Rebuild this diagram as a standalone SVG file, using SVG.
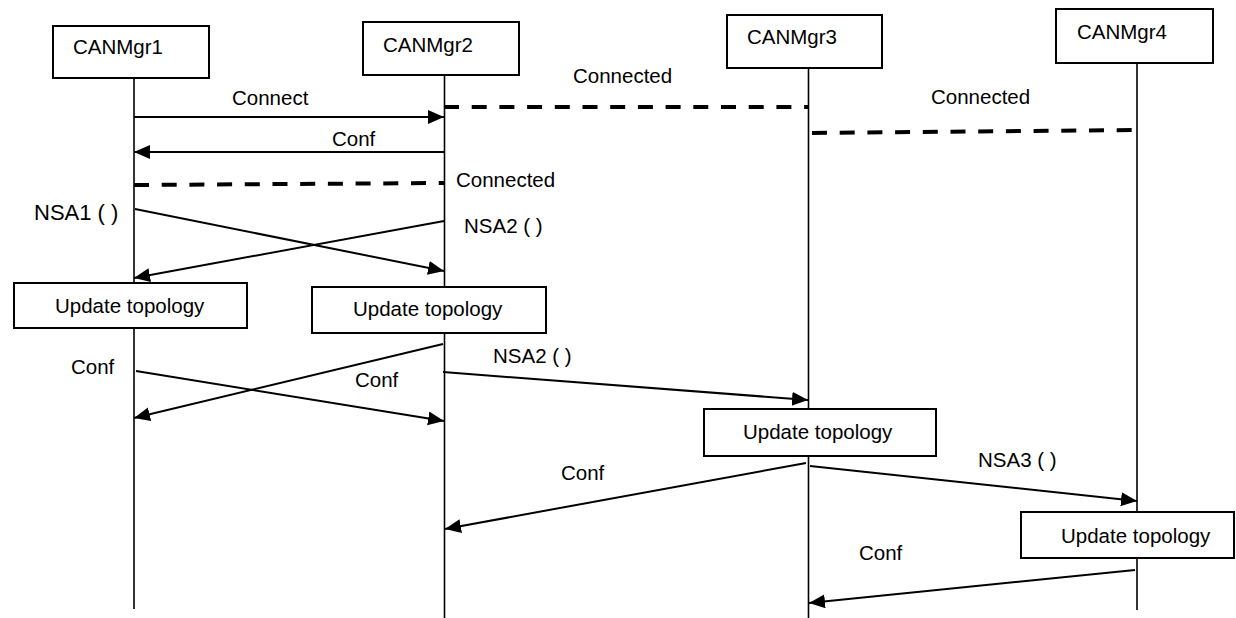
<svg xmlns="http://www.w3.org/2000/svg" width="1236" height="618" viewBox="0 0 1236 618">
<style>
text{font-family:"Liberation Sans",Arial,sans-serif;font-size:20.5px;fill:#000}
.box{fill:#fff;stroke:#000;stroke-width:2}
.life{stroke:#000;stroke-width:1.6;fill:none}
.msg{stroke:#000;stroke-width:2;fill:none;marker-end:url(#ah)}
.dash{stroke:#000;stroke-width:4;fill:none;stroke-dasharray:15 12.7}
</style>
<defs>
<marker id="ah" markerUnits="userSpaceOnUse" markerWidth="17" markerHeight="15" refX="16" refY="7" orient="auto">
<path d="M0,0 L16,7 L0,14 Z" fill="#000"/>
</marker>
</defs>
<g id="lifelines">
<line class="life" x1="134" y1="78" x2="134" y2="609"/>
<line class="life" x1="444.5" y1="75" x2="444.5" y2="618"/>
<line class="life" x1="808.5" y1="68" x2="808.5" y2="618"/>
<line class="life" x1="1137" y1="63" x2="1137" y2="610"/>
</g>
<g id="CANMgr1"><rect class="box" x="53" y="26" width="156" height="52"/><text x="73" y="54">CANMgr1</text></g>
<g id="CANMgr2"><rect class="box" x="363" y="22" width="156" height="53"/><text x="383" y="52">CANMgr2</text></g>
<g id="CANMgr3"><rect class="box" x="727" y="15" width="155" height="53"/><text x="747" y="44">CANMgr3</text></g>
<g id="CANMgr4"><rect class="box" x="1056" y="9" width="157" height="54"/><text x="1077" y="39">CANMgr4</text></g>
<g id="connectors">
<line class="msg" x1="134" y1="117" x2="444" y2="117"/>
<line class="msg" x1="444" y1="152" x2="134" y2="152"/>
<line class="dash" x1="444" y1="107" x2="808" y2="107"/>
<line class="dash" x1="812" y1="133" x2="1133" y2="130"/>
<line class="dash" x1="134" y1="185" x2="444" y2="183"/>
<line class="msg" x1="135" y1="209" x2="444" y2="271"/>
<line class="msg" x1="444" y1="221" x2="134" y2="278"/>
<line class="msg" x1="136" y1="371" x2="444" y2="421"/>
<line class="msg" x1="443" y1="344" x2="134" y2="418"/>
<line class="msg" x1="443" y1="372" x2="808" y2="400"/>
<line class="msg" x1="806" y1="463" x2="445" y2="529"/>
<line class="msg" x1="810" y1="466" x2="1137" y2="501"/>
<line class="msg" x1="1135" y1="570" x2="809" y2="603"/>
</g>
<g id="labels">
<text x="232" y="105">Connect</text>
<text x="332" y="146">Conf</text>
<text x="573" y="83">Connected</text>
<text x="931" y="104">Connected</text>
<text x="456" y="187">Connected</text>
<text x="34" y="220" style="font-size:22px">NSA1 ( )</text>
<text x="464" y="233">NSA2 ( )</text>
<text x="71" y="374">Conf</text>
<text x="355" y="387">Conf</text>
<text x="493" y="363">NSA2 ( )</text>
<text x="561" y="480">Conf</text>
<text x="978" y="467">NSA3 ( )</text>
<text x="859" y="560">Conf</text>
</g>
<g id="update1"><rect class="box" x="14" y="283" width="233" height="45"/><text x="55" y="313">Update topology</text></g>
<g id="update2"><rect class="box" x="312" y="287" width="234" height="46"/><text x="353" y="316">Update topology</text></g>
<g id="update3"><rect class="box" x="704" y="409" width="232" height="47"/><text x="743" y="439">Update topology</text></g>
<g id="update4"><rect class="box" x="1021" y="512" width="213" height="46"/><text x="1061" y="543">Update topology</text></g>
</svg>
